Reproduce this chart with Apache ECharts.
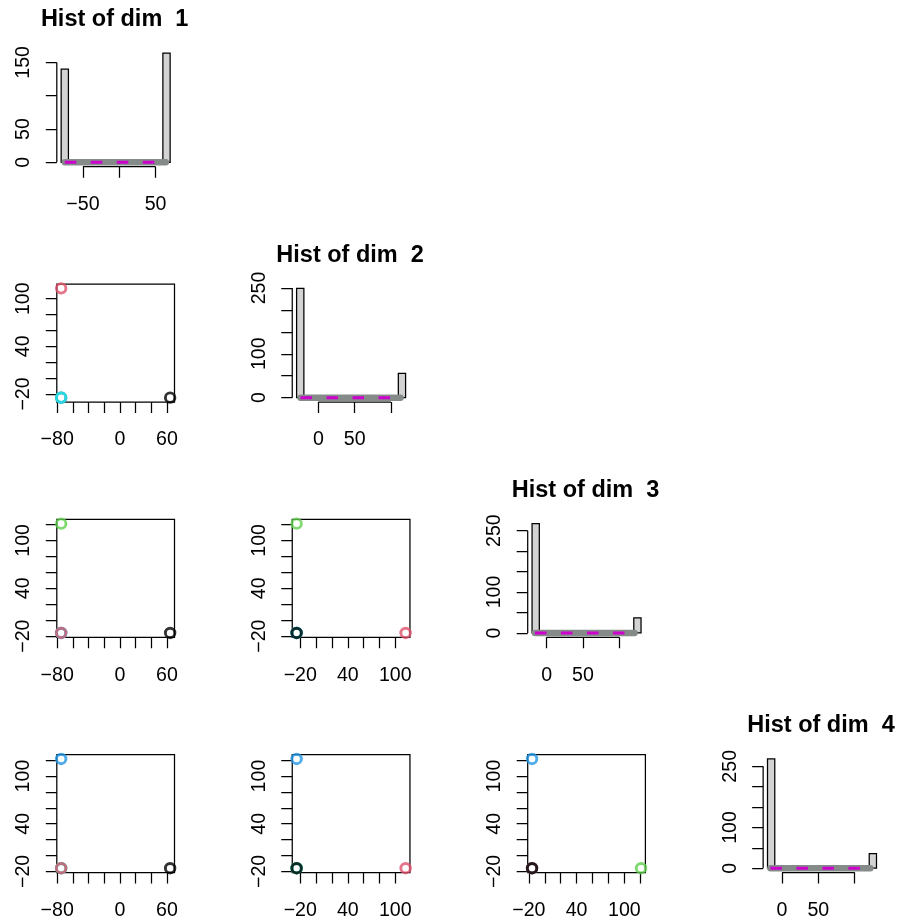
<!DOCTYPE html>
<html><head><meta charset="utf-8">
<script src="https://cdn.jsdelivr.net/npm/echarts@6/dist/echarts.min.js"></script>
<style>html,body{margin:0;padding:0;background:#fff}#chart{width:900px;height:920px}</style>
</head><body><div id="chart"></div>
<script>
// ---------- data (one entry per point cluster, in drawing order) ----------
const groupColors = ['#61D04F', '#2297E6', '#28E2E5', '#DF536B', '#000000'];
const dim1 = [-75, -75, -75, -75, 64];
const dim2 = [-24.6, -24.6, -24.6, 113, -24.6];
const dim3 = [121, -16, -16, -16, -16];
const dim4 = [-16, 121.5, -16, -16, -16];

// ---------- histograms (15 bins each) ----------
const histBreaks1 = [-80, -70, -60, -50, -40, -30, -20, -10, 0, 10, 20, 30, 40, 50, 60, 70];
const histCounts1 = [140, 0, 0, 0, 0, 0, 0, 0, 0, 0, 0, 0, 0, 0, 164];
const histBreaks2 = [-30, -20, -10, 0, 10, 20, 30, 40, 50, 60, 70, 80, 90, 100, 110, 120];
const histCounts2 = [249, 0, 0, 0, 0, 0, 0, 0, 0, 0, 0, 0, 0, 0, 55];
const histBreaks3 = [-20, -10, 0, 10, 20, 30, 40, 50, 60, 70, 80, 90, 100, 110, 120, 130];
const histCounts3 = [267, 0, 0, 0, 0, 0, 0, 0, 0, 0, 0, 0, 0, 0, 37];
const histBreaks4 = [-20, -10, 0, 10, 20, 30, 40, 50, 60, 70, 80, 90, 100, 110, 120, 130];
const histCounts4 = [268, 0, 0, 0, 0, 0, 0, 0, 0, 0, 0, 0, 0, 0, 36];

// ---------- tick marks / tick labels ----------
const histXTicks1 = [-50, 0, 50];      const histXLabels1 = [-50, 50];
const histXTicks2 = [0, 50, 100];      const histXLabels2 = [0, 50];
const histXTicks3 = [0, 50, 100];      const histXLabels3 = [0, 50];
const histXTicks4 = [0, 50, 100];      const histXLabels4 = [0, 50];
const histYTicks1 = [0, 50, 100, 150]; const histYLabels1 = [0, 50, 150];
const histYTicks2 = [0, 50, 100, 150, 200, 250]; const histYLabels2 = [0, 100, 250];
const histYTicks3 = [0, 50, 100, 150, 200, 250]; const histYLabels3 = [0, 100, 250];
const histYTicks4 = [0, 50, 100, 150, 200, 250]; const histYLabels4 = [0, 100, 250];
const dimTicks1 = [-80, -60, -40, -20, 0, 20, 40, 60];      const dimLabels1 = [-80, 0, 60];
const dimTicks2 = [-20, 0, 20, 40, 60, 80, 100];            const dimLabels2 = [-20, 40, 100];
const dimTicks3 = [-20, 0, 20, 40, 60, 80, 100, 120];       const dimLabels3 = [-20, 40, 100];
const dimTicks4 = [-20, 0, 20, 40, 60, 80, 100, 120];       const dimLabels4 = [-20, 40, 100];

// ---------- assembly ----------
const dims = [dim1, dim2, dim3, dim4];
const dimTicks = [dimTicks1, dimTicks2, dimTicks3, dimTicks4];
const dimLabels = [dimLabels1, dimLabels2, dimLabels3, dimLabels4];
const hists = [
  {b: histBreaks1, c: histCounts1, xt: histXTicks1, xl: histXLabels1, yt: histYTicks1, yl: histYLabels1},
  {b: histBreaks2, c: histCounts2, xt: histXTicks2, xl: histXLabels2, yt: histYTicks2, yl: histYLabels2},
  {b: histBreaks3, c: histCounts3, xt: histXTicks3, xl: histXLabels3, yt: histYTicks3, yl: histYLabels3},
  {b: histBreaks4, c: histCounts4, xt: histXTicks4, xl: histXLabels4, yt: histYTicks4, yl: histYLabels4}
];

const LEFT0 = 56.8, TOP0 = 48.7, STEPX = 235.45, STEPY = 235.3, PW = 117.7, PH = 118;
const FONT = 'Liberation Sans, Arial, Helvetica, sans-serif';
const AXFS = 19.6, TITLEFS = 23.5, LW = 1.25;

function expand(lo, hi) { const d = (hi - lo) * 0.04; return [lo - d, hi + d]; }
function fmt(v) { return v < 0 ? '\u2212' + Math.abs(v) : String(v); }

const grids = [], xAxes = [], yAxes = [], series = [], titles = [];

function addAxes(gi, xr, yr, xt, xl, yt, yl) {
  const tick = (vals) => ({show: true, inside: false, length: 11, customValues: vals, lineStyle: {color: '#000', width: LW}});
  const lab = (vals, extra) => Object.assign({show: true, customValues: vals, formatter: fmt, color: '#000',
    fontSize: AXFS, fontFamily: FONT, hideOverlap: false}, extra);
  xAxes.push({type: 'value', gridIndex: gi, min: xr[0], max: xr[1], position: 'bottom',
    axisLine: {show: false, onZero: false}, splitLine: {show: false},
    axisTick: tick(xt), axisLabel: lab(xl, {margin: 28})});
  yAxes.push({type: 'value', gridIndex: gi, min: yr[0], max: yr[1], position: 'left',
    axisLine: {show: false, onZero: false}, splitLine: {show: false},
    axisTick: tick(yt), axisLabel: lab(yl, {margin: 23, rotate: 90})});
}

for (let i = 0; i < 4; i++) {
  for (let j = 0; j <= i; j++) {
    const gi = grids.length;
    const left = LEFT0 + STEPX * j, top = TOP0 + STEPY * i;
    if (i === j) {
      const h = hists[i];
      grids.push({left: left, top: top, width: PW, height: PH, show: false, containLabel: false, outerBoundsMode: 'none'});
      const xr = expand(h.b[0], h.b[h.b.length - 1]);
      const yr = expand(0, Math.max.apply(null, h.c));
      addAxes(gi, xr, yr, h.xt, h.xl, h.yt, h.yl);
      series.push({type: 'custom', xAxisIndex: gi, yAxisIndex: gi, silent: true, clip: false,
        data: h.c.map((c, k) => [h.b[k], h.b[k + 1], c]),
        encode: {x: [0, 1], y: 2},
        renderItem: function (params, api) {
          const p0 = api.coord([api.value(0), 0]);
          const p1 = api.coord([api.value(1), api.value(2)]);
          return {type: 'rect', shape: {x: p0[0], y: p1[1], width: p1[0] - p0[0], height: p0[1] - p1[1]},
            style: {fill: '#D3D3D3', stroke: '#000', lineWidth: LW}};
        }});
      const d = dims[i];
      const lo = Math.min.apply(null, d), hi = Math.max.apply(null, d);
      series.push({type: 'line', xAxisIndex: gi, yAxisIndex: gi, silent: true, clip: false, symbol: 'none',
        data: [[lo, 0], [hi, 0]], lineStyle: {color: '#848B88', width: 6.5, cap: 'round'}});
      series.push({type: 'line', xAxisIndex: gi, yAxisIndex: gi, silent: true, clip: false, symbol: 'none',
        data: [[lo, 0], [hi, 0]], lineStyle: {color: '#CD00CD', width: 3, type: [11.5, 14.5]}});
      // axis lines spanning only the tick range (as in base R)
      series.push({type: 'line', xAxisIndex: gi, yAxisIndex: gi, silent: true, clip: false, symbol: 'none',
        data: [[h.xt[0], yr[0]], [h.xt[h.xt.length - 1], yr[0]]], lineStyle: {color: '#000', width: LW}});
      series.push({type: 'line', xAxisIndex: gi, yAxisIndex: gi, silent: true, clip: false, symbol: 'none',
        data: [[xr[0], h.yt[0]], [xr[0], h.yt[h.yt.length - 1]]], lineStyle: {color: '#000', width: LW}});
      titles.push({text: 'Hist of dim  ' + (i + 1), left: left + PW / 2 - 1, top: top - 29 - TITLEFS / 2, textAlign: 'center', padding: 0,
        textStyle: {fontSize: TITLEFS, fontWeight: 'bold', color: '#000', fontFamily: FONT}});
    } else {
      grids.push({left: left, top: top, width: PW, height: PH, show: true, borderColor: '#000', borderWidth: LW,
        backgroundColor: 'transparent', containLabel: false, outerBoundsMode: 'none'});
      const xd = dims[j], yd = dims[i];
      const xr = expand(Math.min.apply(null, xd), Math.max.apply(null, xd));
      const yr = expand(Math.min.apply(null, yd), Math.max.apply(null, yd));
      addAxes(gi, xr, yr, dimTicks[j], dimLabels[j], dimTicks[i], dimLabels[i]);
      series.push({type: 'scatter', xAxisIndex: gi, yAxisIndex: gi, silent: true, clip: false,
        symbol: 'circle', symbolSize: 9.5,
        data: xd.map((x, k) => ({value: [x, yd[k]], itemStyle: {color: 'rgba(0,0,0,0)', borderColor: groupColors[k], borderWidth: 2.9}}))});
    }
  }
}

const chart = echarts.init(document.getElementById('chart'), null, {renderer: 'canvas'});
chart.setOption({
  animation: false,
  backgroundColor: '#fff',
  title: titles,
  grid: grids,
  xAxis: xAxes,
  yAxis: yAxes,
  series: series
});
</script>
</body></html>
